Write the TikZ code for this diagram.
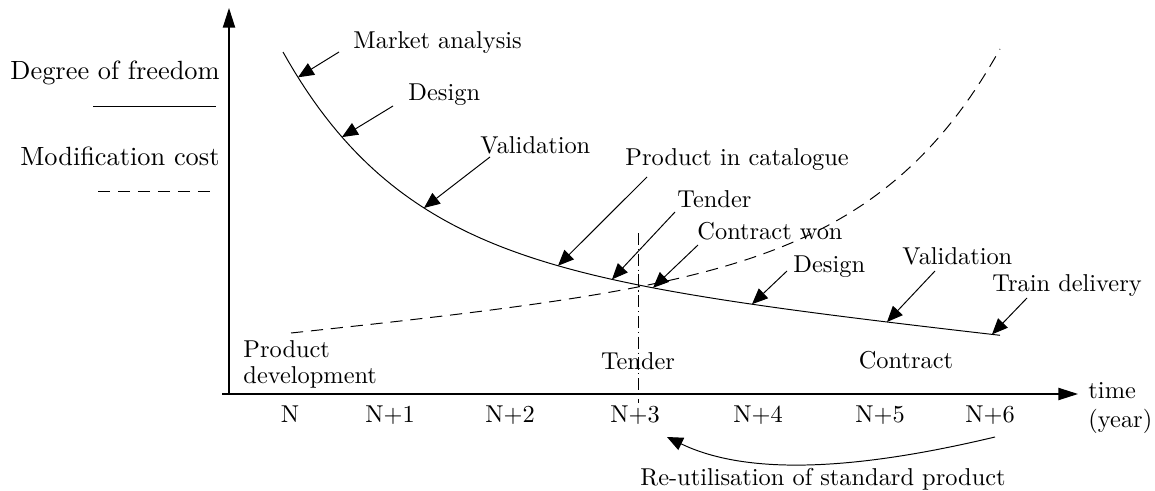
\documentclass[tikz,border=0pt]{standalone}
\usetikzlibrary{arrows.meta}

\begin{document}
\begin{tikzpicture}[x=0.41pt,y=-0.41pt,
    declare function={dof(\t)=52+205*(1-exp(-(\t-283)/122))+0.11*(\t-283);
                      cost(\t)=333-0.1*(\t-291)-0.77*(exp((\t-291)/126)-1);},
    tip/.style={-{Triangle[length=8pt,width=5pt]}},
    ptr/.style={-{Triangle[length=6.5pt,width=5.5pt]},line width=0.4pt},
    txt/.style={inner sep=0pt},
    big/.style={txt,font=\fontsize{10.8pt}{13pt}\selectfont},
    costline/.style={line width=0.4pt,dash pattern=on 5pt off 3.2pt}]
  \useasboundingbox (0,0) rectangle (1155,491);

  % Axes
  \coordinate (O) at (229,394);
  \coordinate (xs) at (222,394);
  \coordinate (xe) at (1078,394);
  \coordinate (ye) at (229,8);
  \draw[tip,line width=0.5pt] (xs) -- (xe);
  \draw[tip,line width=0.5pt] (O) -- (ye);
  \node[txt,anchor=north west,align=left] (time) at (1088,382) {time\\(year)};
  \foreach \px/\lab [count=\i from 0] in {290/N,390/N+1,510/N+2,635/N+3,758/N+4,880/N+5,990/N+6}
    \node[txt,anchor=base] (n\i) at (\px,422) {\lab};

  % Legende
  \node[big,anchor=base east] (free) at (220,79) {Degree of freedom};
  \draw[line width=0.4pt] (93,106) -- (216,106);
  \node[big,anchor=base east] (cost) at (220,165) {Modification cost};
  \draw[costline] (98,191) -- (216,191);

  % Courbes
  \draw[line width=0.4pt] plot[domain=283:1000,samples=120] (\x,{dof(\x)});
  \draw[costline] plot[domain=291:1000,samples=120] (\x,{cost(\x)});
  \draw[line width=0.4pt,dash pattern=on 5pt off 1.5pt on 0.5pt off 1.5pt] (638,233) -- (638,403);

  % Etapes
  \node[txt,anchor=base west] (ma) at (353,48) {Market analysis};
  \node[txt,anchor=base west] (des1) at (408,100) {Design};
  \node[txt,anchor=base west] (val1) at (480,154) {Validation};
  \node[txt,anchor=base west] (cat) at (625,165) {Product in catalogue};
  \node[txt,anchor=base west] (tend1) at (677,208) {Tender};
  \node[txt,anchor=base west] (won) at (697,239) {Contract won};
  \node[txt,anchor=base west] (des2) at (793,272) {Design};
  \node[txt,anchor=base west] (val2) at (902,265) {Validation};
  \node[txt,anchor=base west] (deliv) at (992,292) {Train delivery};
  \foreach \tx/\ty/\hx [count=\i] in {339/52/298,393/106/342,490/157/424,647/177/558,
      675/212/612,698/245/653,787/271/752,935/271/887,1027/298/992} {
    \coordinate (s\i) at (\tx,\ty);
    \coordinate (e\i) at (\hx,{dof(\hx)});
    \draw[ptr] (s\i) -- (e\i);
  }

  \node[txt,anchor=north west,align=left,font=\fontsize{10pt}{10.7pt}\selectfont] (pdev) at (243,340) {Product\\development};
  \node[txt,anchor=base] (tend2) at (638,369) {Tender};
  \node[txt,anchor=base] (contr) at (906,368) {Contract};

  % Reutilisation
  \coordinate (r1) at (995,437);
  \coordinate (r2) at (667,437);
  \draw[ptr] (r1) .. controls (890,462) and (760,482) .. (r2);
  \node[txt,anchor=base] (reuse) at (823,485) {Re-utilisation of standard product};
\end{tikzpicture}
\end{document}
